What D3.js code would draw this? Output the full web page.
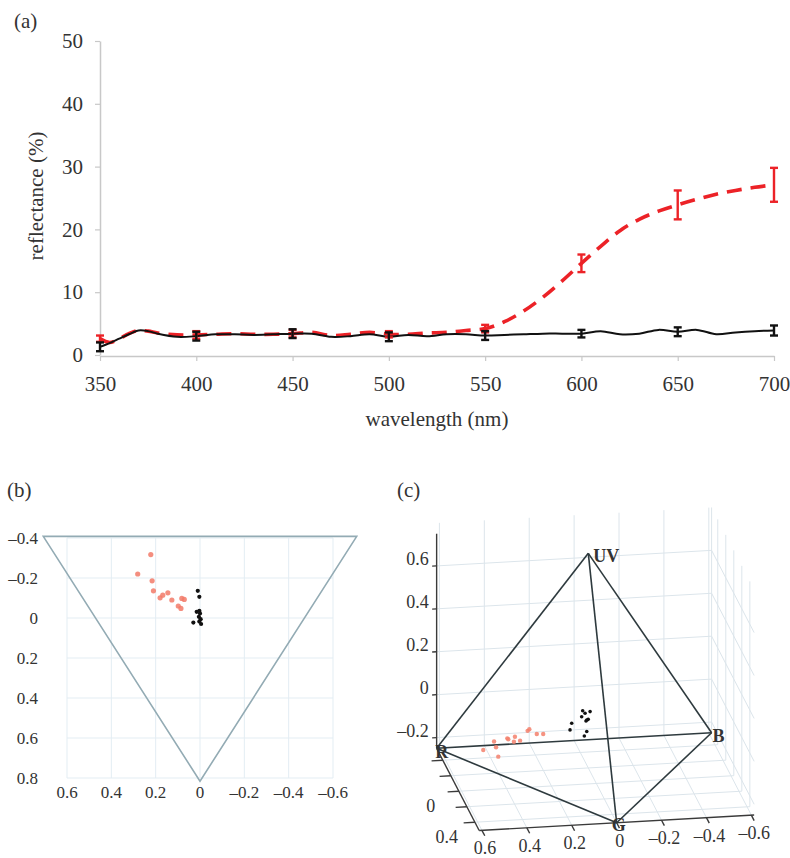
<!DOCTYPE html>
<html lang="en">
<head>
<meta charset="UTF-8">
<title>Reflectance spectra and colour space</title>
<style>
  body { margin: 0; background: #fff; }
  svg { display: block; font-family: "Liberation Serif", "DejaVu Serif", serif; }
  text { fill: #333; }
</style>
</head>
<body>
<svg width="790" height="858"></svg>
<script src="https://cdn.jsdelivr.net/npm/d3@7.8.5/dist/d3.min.js"></script>
<script>
// ---- panel (a): mean reflectance spectra
const wavelengths = [350, 355, 360, 365, 370, 375, 380, 390, 400, 410, 420, 430, 440, 450, 460, 470, 480, 490, 500,
  510, 520, 530, 540, 550, 560, 570, 580, 590, 600, 610, 620, 630, 640, 650, 660, 670, 680, 690, 700]
const blackMean = [1.3, 1.9, 2.6, 3.3, 3.9, 3.8, 3.4, 2.9, 3.0, 3.3, 3.3, 3.2, 3.3, 3.4, 3.4, 2.9, 3.0, 3.3, 2.9,
  3.2, 3.0, 3.3, 3.3, 3.1, 3.2, 3.3, 3.4, 3.4, 3.4, 3.8, 3.3, 3.4, 4.0, 3.7, 4.0, 3.3, 3.6, 3.8, 3.9]
const redMean = [2.6, 2.0, 2.6, 3.4, 3.9, 3.8, 3.5, 3.2, 3.2, 3.3, 3.4, 3.3, 3.3, 3.4, 3.6, 3.1, 3.3, 3.6, 3.3,
  3.3, 3.5, 3.6, 3.9, 4.2, 5.3, 7.0, 9.2, 11.8, 14.6, 17.3, 19.8, 21.6, 22.9, 23.9, 24.8, 25.6, 26.2, 26.7, 27.1]
const barWavelengths = [350, 400, 450, 500, 550, 600, 650, 700]
const blackErr = [0.7, 0.7, 0.7, 0.7, 0.7, 0.6, 0.7, 0.8]
const redErr = [0.5, 0.6, 0.6, 0.5, 0.6, 1.4, 2.3, 2.7]
const xTicksA = [350, 400, 450, 500, 550, 600, 650, 700]
const yTicksA = [0, 10, 20, 30, 40, 50]

// ---- panel (b): triangle projection
const triangleB = [[0.707, -0.408], [-0.707, -0.408], [0, 0.816]]
const redPtsB = [[0.222, -0.317], [0.281, -0.220], [0.216, -0.186], [0.210, -0.136], [0.180, -0.101], [0.168, -0.114],
  [0.145, -0.126], [0.127, -0.090], [0.082, -0.098], [0.071, -0.093], [0.098, -0.060], [0.086, -0.048]]
const blackPtsB = [[0.010, -0.136], [0.003, -0.106], [0.015, -0.031], [0.003, -0.036], [0, -0.023], [0.005, -0.006],
  [-0.003, 0.006], [0.030, 0.023], [-0.005, 0.030], [0.003, 0.018]]
const xTicksB = [0.6, 0.4, 0.2, 0, -0.2, -0.4, -0.6]
const yTicksB = [-0.4, -0.2, 0, 0.2, 0.4, 0.6, 0.8]

// ---- panel (c): tetrahedral colour space
const vertexNames = ['UV', 'R', 'B', 'G']
const vertexCoords = [[0, 0, 0.75], [0.6124, -0.3536, -0.25], [-0.6124, -0.3536, -0.25], [0, 0.7071, -0.25]]
const tetraEdges = [[0, 1], [0, 2], [0, 3], [1, 2], [1, 3], [3, 2]]
const redPtsC = [[0.450, -0.10, -0.176], [0.393, -0.15, -0.158], [0.402, -0.05, -0.148], [0.325, -0.20, -0.165],
  [0.410, 0.05, -0.155], [0.335, -0.12, -0.140], [0.300, -0.15, -0.141], [0.317, -0.08, -0.138],
  [0.286, -0.10, -0.142], [0.231, -0.22, -0.143], [0.218, -0.25, -0.147], [0.208, -0.12, -0.123], [0.183, -0.10, -0.117]]
const blackPtsC = [[0.025, 0, 0.018], [0.018, 0.02, 0.013], [-0.008, 0, 0.012], [0.012, 0.03, -0.015],
  [0.012, 0.01, -0.027], [0.004, 0.02, -0.016], [0.026, -0.02, -0.017], [0.065, -0.05, -0.056],
  [0.076, -0.03, -0.079], [0.014, 0.04, -0.065], [0.023, 0.03, -0.089]]
const xTicksC = [0.6, 0.4, 0.2, 0, -0.2, -0.4, -0.6]
const yTicksC = [-0.2, 0, 0.2, 0.4, 0.6]
const yLabelsC = [0, 0.4]
const zTicksC = [-0.2, 0, 0.2, 0.4, 0.6]

const fmt = v => (v < 0 ? '–' : '') + d3.format('')(Math.abs(v))
const svg = d3.select('svg')

// ================= (a)
const xA = d3.scaleLinear().domain([350, 700]).range([100, 774])
const yA = d3.scaleLinear().domain([0, 50]).range([355, 41])
const gA = svg.append('g')

function styleAxis(g, size) {
  g.attr('font-family', null).attr('font-size', null)
  g.select('.domain').attr('stroke', '#c8c8c8').attr('stroke-width', 1.5)
  g.selectAll('.tick line').attr('stroke', '#c8c8c8').attr('stroke-width', 1.2)
  g.selectAll('.tick text').style('font-size', size + 'px').attr('fill', '#333')
}

gA.append('g').attr('transform', 'translate(100,0)')
  .call(d3.axisLeft(yA).tickValues(yTicksA).tickSize(5).tickSizeOuter(0).tickPadding(12))
  .call(g => styleAxis(g, 21))
gA.append('g').attr('transform', 'translate(0,356)')
  .call(d3.axisBottom(xA).tickValues(xTicksA).tickSize(5).tickSizeOuter(0).tickPadding(15))
  .call(g => styleAxis(g, 21))

const lineA = d3.line().x((d, i) => xA(wavelengths[i])).y(d => yA(d)).curve(d3.curveCatmullRom)
gA.append('path').attr('d', lineA(redMean)).attr('fill', 'none')
  .attr('stroke', '#ec2227').attr('stroke-width', 3.6).attr('stroke-dasharray', '15,9')
gA.append('path').attr('d', lineA(blackMean)).attr('fill', 'none')
  .attr('stroke', '#111').attr('stroke-width', 2)

function errorBars(means, errs, color) {
  const g = gA.append('g').attr('stroke', color).attr('stroke-width', 2.4)
  barWavelengths.forEach((w, i) => {
    const m = means[wavelengths.indexOf(w)]
    const x = xA(w), y0 = yA(m - errs[i]), y1 = yA(m + errs[i])
    g.append('line').attr('x1', x).attr('x2', x).attr('y1', y0).attr('y2', y1)
    g.append('line').attr('x1', x - 4).attr('x2', x + 4).attr('y1', y0).attr('y2', y0)
    g.append('line').attr('x1', x - 4).attr('x2', x + 4).attr('y1', y1).attr('y2', y1)
  })
}
errorBars(redMean, redErr, '#ec2227')
errorBars(blackMean, blackErr, '#111')

gA.append('text').attr('x', 14).attr('y', 28).style('font-size', '21px').text('(a)')
gA.append('text').attr('transform', 'translate(36,196) rotate(-90)').attr('text-anchor', 'middle')
  .attr('dominant-baseline', 'central').style('font-size', '21px').text('reflectance (%)')
gA.append('text').attr('x', 437).attr('y', 426).attr('text-anchor', 'middle')
  .style('font-size', '21px').text('wavelength (nm)')

// ================= (b)
const xB = d3.scaleLinear().domain([0.6, -0.6]).range([67, 333])
const yB = d3.scaleLinear().domain([-0.4, 0.8]).range([538, 778])
const gB = svg.append('g')

const gridB = gB.append('g').attr('stroke', '#e3edf3').attr('stroke-width', 1)
xTicksB.forEach(v => gridB.append('line').attr('x1', xB(v)).attr('x2', xB(v)).attr('y1', yB(-0.4)).attr('y2', yB(0.8)))
yTicksB.forEach(v => gridB.append('line').attr('x1', xB(0.6)).attr('x2', xB(-0.6)).attr('y1', yB(v)).attr('y2', yB(v)))

gB.append('path')
  .attr('d', d3.line().x(d => xB(d[0])).y(d => yB(d[1]))(triangleB) + 'Z')
  .attr('fill', 'none').attr('stroke', '#93abb4').attr('stroke-width', 1.6)

gB.append('g').selectAll('circle').data(redPtsB).join('circle')
  .attr('cx', d => xB(d[0])).attr('cy', d => yB(d[1])).attr('r', 2.6).attr('fill', '#f27a68').attr('opacity', 0.85)
gB.append('g').selectAll('circle').data(blackPtsB).join('circle')
  .attr('cx', d => xB(d[0])).attr('cy', d => yB(d[1])).attr('r', 2.1).attr('fill', '#111')

gB.append('g').selectAll('text').data(yTicksB).join('text')
  .attr('x', 38).attr('y', d => yB(d)).attr('text-anchor', 'end').attr('dominant-baseline', 'central')
  .style('font-size', '17px').text(fmt)
gB.append('g').selectAll('text').data(xTicksB).join('text')
  .attr('x', d => xB(d)).attr('y', 792).attr('text-anchor', 'middle').attr('dominant-baseline', 'central')
  .style('font-size', '17px').text(fmt)
gB.append('text').attr('x', 7).attr('y', 497).style('font-size', '21px').text('(b)')

// ================= (c)
// fixed oblique view of the colour space: screen = origin + x*ex + y*ey + z*ez
const originC = [588.3, 714.3], exC = [-224.5, 12.7], eyC = [40.1, 77.5], ezC = [0, -214.6]
const proj = p => [originC[0] + p[0] * exC[0] + p[1] * eyC[0] + p[2] * ezC[0],
  originC[1] + p[0] * exC[1] + p[1] * eyC[1] + p[2] * ezC[1]]
const xr = [-0.6124, 0.6124], yr = [-0.3536, 0.7071], zr = [-0.25, 0.8]
const gC = svg.append('g')
const seg = (g, a, b) => {
  const p = proj(a), q = proj(b)
  return g.append('line').attr('x1', p[0]).attr('y1', p[1]).attr('x2', q[0]).attr('y2', q[1])
}

const gridC = gC.append('g').attr('stroke', '#dce5eb').attr('stroke-width', 1)
// floor
xTicksC.forEach(v => seg(gridC, [v, yr[0], zr[0]], [v, yr[1], zr[0]]))
yTicksC.forEach(v => seg(gridC, [xr[0], v, zr[0]], [xr[1], v, zr[0]]))
// back wall
xTicksC.forEach(v => seg(gridC, [v, yr[0], zr[0]], [v, yr[0], zr[1]]))
zTicksC.forEach(v => seg(gridC, [xr[0], yr[0], v], [xr[1], yr[0], v]))
// right wall
yTicksC.forEach(v => seg(gridC, [xr[0], v, zr[0]], [xr[0], v, zr[1]]))
zTicksC.forEach(v => seg(gridC, [xr[0], yr[0], v], [xr[0], yr[1], v]))
seg(gridC, [xr[0], yr[0], zr[0]], [xr[0], yr[0], zr[1]])

// axis lines and ticks
const axC = gC.append('g').attr('stroke', '#3a3a3a').attr('stroke-width', 1.4)
seg(axC, [xr[1], yr[1], zr[0]], [xr[0], yr[1], zr[0]])
seg(axC, [xr[1], yr[0], zr[0]], [xr[1], yr[1], zr[0]])
seg(axC, [xr[1], yr[0], zr[0]], [xr[1], yr[0], 0.75])
xTicksC.forEach(v => seg(axC, [v, yr[1], zr[0]], [v, yr[1] + 0.07, zr[0]]))
yTicksC.forEach(v => seg(axC, [xr[1], v, zr[0]], [xr[1] + 0.05, v, zr[0]]))
zTicksC.forEach(v => seg(axC, [xr[1], yr[0], v], [xr[1] + 0.02, yr[0], v]))

// tetrahedron
const tetG = gC.append('g').attr('stroke', '#2e3a3e').attr('stroke-width', 1.6)
tetraEdges.forEach(([a, b]) => seg(tetG, vertexCoords[a], vertexCoords[b]))

gC.append('g').selectAll('circle').data(redPtsC).join('circle')
  .attr('cx', d => proj(d)[0]).attr('cy', d => proj(d)[1]).attr('r', 2.2).attr('fill', '#f3806c').attr('opacity', 0.85)
gC.append('g').selectAll('circle').data(blackPtsC).join('circle')
  .attr('cx', d => proj(d)[0]).attr('cy', d => proj(d)[1]).attr('r', 1.8).attr('fill', '#111')

// tick labels
gC.append('g').selectAll('text').data(zTicksC).join('text')
  .attr('x', d => proj([xr[1], yr[0], d])[0] - 8).attr('y', d => proj([xr[1], yr[0], d])[1] - 7)
  .attr('text-anchor', 'end').attr('dominant-baseline', 'central').style('font-size', '18px').text(fmt)
gC.append('g').selectAll('text').data(yLabelsC).join('text')
  .attr('x', d => proj([xr[1], d, zr[0]])[0] - 20).attr('y', d => proj([xr[1], d, zr[0]])[1] + 30)
  .attr('text-anchor', 'middle').attr('dominant-baseline', 'central').style('font-size', '18px').text(fmt)
gC.append('g').selectAll('text').data(xTicksC).join('text')
  .attr('x', d => proj([d, yr[1], zr[0]])[0] + 3).attr('y', d => proj([d, yr[1], zr[0]])[1] + 18)
  .attr('text-anchor', 'middle').attr('dominant-baseline', 'central').style('font-size', '18px').text(fmt)

// vertex labels
const vertexOffsets = [[18, 3], [5, 4], [7, 3], [2, 2]]
gC.append('g').selectAll('text').data(vertexNames).join('text')
  .attr('x', (d, i) => proj(vertexCoords[i])[0] + vertexOffsets[i][0])
  .attr('y', (d, i) => proj(vertexCoords[i])[1] + vertexOffsets[i][1])
  .attr('text-anchor', 'middle').attr('dominant-baseline', 'central')
  .style('font-size', '18px').style('font-weight', 'bold').attr('fill', '#1a1a1a').text(d => d)

gC.append('text').attr('x', 397).attr('y', 497).style('font-size', '21px').text('(c)')
</script>
</body>
</html>
